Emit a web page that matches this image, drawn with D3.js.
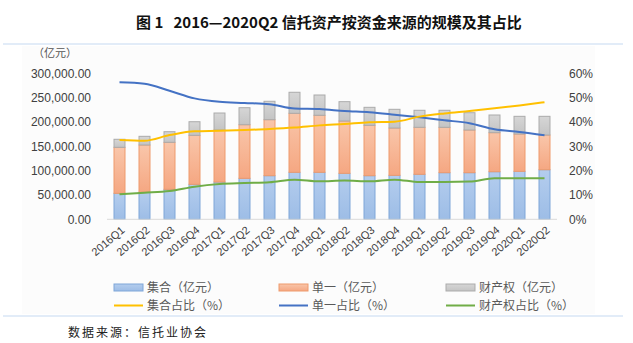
<!DOCTYPE html>
<meta charset="utf-8">
<head>
<style>
  body { margin: 0; background: #fff; }
  svg { display: block; }
  .num { font: 12px "Liberation Sans", Arial, sans-serif; fill: #404040; }
  .tick-x { font: 11px "Liberation Sans", Arial, sans-serif; fill: #404040; }
  .legend text { font: 12px "Noto Sans CJK SC", sans-serif; fill: #595959; }
  .title { font: bold 15px "Noto Sans CJK SC", sans-serif; fill: #111; white-space: pre; }
</style>
</head>
<body>
<script src="https://cdn.jsdelivr.net/npm/d3@7"></script>
<script>

var quarters = ["2016Q1", "2016Q2", "2016Q3", "2016Q4", "2017Q1", "2017Q2", "2017Q3", "2017Q4",
    "2018Q1", "2018Q2", "2018Q3", "2018Q4", "2019Q1", "2019Q2", "2019Q3", "2019Q4", "2020Q1", "2020Q2"];

// 规模（亿元）
var jihe = [53400, 55500, 61600, 71900, 76600, 84200, 89600, 96600,
    96600, 94500, 89600, 90400, 92500, 95800, 95800, 97800, 98600, 101900];
var danyi = [94500, 97200, 96600, 100700, 106900, 110200, 115100, 121200,
    117100, 107500, 103600, 97200, 96500, 93200, 87700, 80200, 76700, 71300];
var caichanquan = [16500, 17800, 21800, 27900, 34900, 34900, 37800, 43200,
    41700, 39700, 36900, 38400, 35000, 35000, 35500, 36300, 36300, 38400];

// 占比（%）
var jiheRatio = [32.6, 32.3, 34.6, 36.2, 36.4, 36.7, 37.1, 37.7, 38.6,
    39.2, 39.9, 40.1, 42.2, 43.5, 44.5, 45.6, 46.8, 48.1];
var danyiRatio = [56.3, 55.7, 52.8, 49.7, 48.3, 47.8, 47.3, 45.5, 45.3,
    44.5, 44.0, 43.0, 41.9, 40.7, 39.5, 37.0, 35.9, 34.5];
var caichanRatio = [10.3, 10.9, 11.6, 13.4, 14.5, 14.9, 15.2, 16.3, 15.6,
    15.9, 15.6, 16.3, 15.3, 15.3, 15.5, 16.9, 16.9, 16.9];

var leftTicks = [0, 50000, 100000, 150000, 200000, 250000, 300000];
var rightTicks = [0, 10, 20, 30, 40, 50, 60];

var W = 633, H = 343;
var plot = {left: 107, right: 557, top: 73.3, bottom: 219.3};

var svg = d3.select("body").append("svg")
    .attr("width", W)
    .attr("height", H);

// 图表底色
svg.append("rect")
    .attr("x", 22).attr("y", 46)
    .attr("width", 573).attr("height", 268)
    .attr("fill", "#fcfcfc");

// 标题和分隔线
svg.append("text")
    .attr("class", "title")
    .attr("x", 136).attr("y", 28)
    .text("图 1   2016—2020Q2 信托资产按资金来源的规模及其占比");

svg.append("line")
    .attr("x1", 3).attr("x2", 623).attr("y1", 44).attr("y2", 44)
    .attr("stroke", "#c6d9f1").attr("stroke-width", 1.2);

svg.append("line")
    .attr("x1", 3).attr("x2", 623).attr("y1", 316).attr("y2", 316)
    .attr("stroke", "#c6d9f1").attr("stroke-width", 1.2);

svg.append("text")
    .attr("x", 33).attr("y", 57)
    .style("font", "11px 'Noto Sans CJK SC', sans-serif")
    .attr("fill", "#555")
    .text("（亿元）");

svg.append("text")
    .attr("x", 68).attr("y", 337)
    .style("font", "12px 'Noto Sans CJK SC', sans-serif")
    .style("letter-spacing", "2px")
    .attr("fill", "#222")
    .text("数据来源：信托业协会");

// 比例尺
var x = d3.scaleBand()
    .domain(quarters)
    .range([plot.left, plot.right])
    .paddingInner(0.56)
    .paddingOuter(0.28);

var y = d3.scaleLinear()
    .domain([0, 300000])
    .range([plot.bottom, plot.top]);

var yr = d3.scaleLinear()
    .domain([0, 60])
    .range([plot.bottom, plot.top]);

// 渐变填充
var defs = svg.append("defs");
function gradient(id, top, bottom) {
    var g = defs.append("linearGradient")
        .attr("id", id)
        .attr("x1", 0).attr("y1", 0).attr("x2", 0).attr("y2", 1);
    g.append("stop").attr("offset", "0%").attr("stop-color", top);
    g.append("stop").attr("offset", "100%").attr("stop-color", bottom);
}
gradient("gBlue", "#b4cdee", "#9dbde6");
gradient("gOrange", "#f9c6aa", "#f5a782");
gradient("gGray", "#d6d6d6", "#c4c4c4");

// 左轴
var leftAxis = svg.append("g")
    .attr("transform", "translate(" + plot.left + ",0)")
    .call(d3.axisLeft(y).tickValues(leftTicks).tickSize(0).tickPadding(16)
        .tickFormat(d3.format(",.2f")));
leftAxis.select(".domain").remove();
leftAxis.selectAll("text").attr("class", "num");

// 右轴
var rightAxis = svg.append("g")
    .attr("transform", "translate(" + plot.right + ",0)")
    .call(d3.axisRight(yr).tickValues(rightTicks).tickSize(0).tickPadding(12)
        .tickFormat(function (d) { return d + "%"; }));
rightAxis.select(".domain").remove();
rightAxis.selectAll("text").attr("class", "num");

// 堆叠柱
var rows = quarters.map(function (q, i) {
    return {q: q, jihe: jihe[i], danyi: danyi[i], caichanquan: caichanquan[i]};
});
var stack = d3.stack().keys(["jihe", "danyi", "caichanquan"])(rows);
var fills = {jihe: "url(#gBlue)", danyi: "url(#gOrange)", caichanquan: "url(#gGray)"};
var strokes = {jihe: "#7ea6d8", danyi: "#ee9a6c", caichanquan: "#ababab"};

svg.selectAll(".layer")
    .data(stack)
    .enter().append("g")
    .attr("class", "layer")
    .attr("fill", function (d) { return fills[d.key]; })
    .attr("stroke", function (d) { return strokes[d.key]; })
    .attr("stroke-width", 1)
    .selectAll("rect")
    .data(function (d) { return d; })
    .enter().append("rect")
    .attr("x", function (d) { return x(d.data.q); })
    .attr("width", x.bandwidth())
    .attr("y", function (d) { return y(d[1]); })
    .attr("height", function (d) { return y(d[0]) - y(d[1]); });

// 横轴
svg.append("line")
    .attr("x1", plot.left).attr("x2", plot.right)
    .attr("y1", plot.bottom).attr("y2", plot.bottom)
    .attr("stroke", "#d9d9d9").attr("stroke-width", 1);

svg.selectAll(".tick-x")
    .data(quarters)
    .enter().append("text")
    .attr("class", "tick-x")
    .attr("text-anchor", "end")
    .attr("transform", function (d) {
        return "translate(" + (x(d) + x.bandwidth() / 2 + 6) + "," + (plot.bottom + 12) + ") rotate(-40)";
    })
    .text(function (d) { return d; });

// 占比折线
var line = d3.line()
    .x(function (d, i) { return x(quarters[i]) + x.bandwidth() / 2; })
    .y(function (d) { return yr(d); })
    .curve(d3.curveMonotoneX);

[[danyiRatio, "#4472c4"], [jiheRatio, "#ffc000"], [caichanRatio, "#70ad47"]].forEach(function (s) {
    svg.append("path")
        .datum(s[0])
        .attr("fill", "none")
        .attr("stroke", s[1])
        .attr("stroke-width", 2)
        .attr("d", line);
});

// 图例
var legendItems = [
    {label: "集合（亿元）", type: "bar", fill: "url(#gBlue)", stroke: "#7ea6d8"},
    {label: "单一（亿元）", type: "bar", fill: "url(#gOrange)", stroke: "#ee9a6c"},
    {label: "财产权（亿元）", type: "bar", fill: "url(#gGray)", stroke: "#ababab"},
    {label: "集合占比（%）", type: "line", stroke: "#ffc000"},
    {label: "单一占比（%）", type: "line", stroke: "#4472c4"},
    {label: "财产权占比（%）", type: "line", stroke: "#70ad47"}
];
var colX = [114, 279, 446], rowY = [287.5, 305.5];

var legend = svg.append("g").attr("class", "legend");
var item = legend.selectAll("g")
    .data(legendItems)
    .enter().append("g")
    .attr("transform", function (d, i) {
        return "translate(" + colX[i % 3] + "," + rowY[Math.floor(i / 3)] + ")";
    });

item.filter(function (d) { return d.type === "bar"; })
    .append("rect")
    .attr("x", 0).attr("y", -3.5)
    .attr("width", 29).attr("height", 7)
    .attr("fill", function (d) { return d.fill; })
    .attr("stroke", function (d) { return d.stroke; });

item.filter(function (d) { return d.type === "line"; })
    .append("line")
    .attr("x1", 0).attr("x2", 29)
    .attr("y1", 0).attr("y2", 0)
    .attr("stroke", function (d) { return d.stroke; })
    .attr("stroke-width", 2);

item.append("text")
    .attr("x", 33)
    .attr("dy", "0.36em")
    .text(function (d) { return d.label; });

</script>
</body>
